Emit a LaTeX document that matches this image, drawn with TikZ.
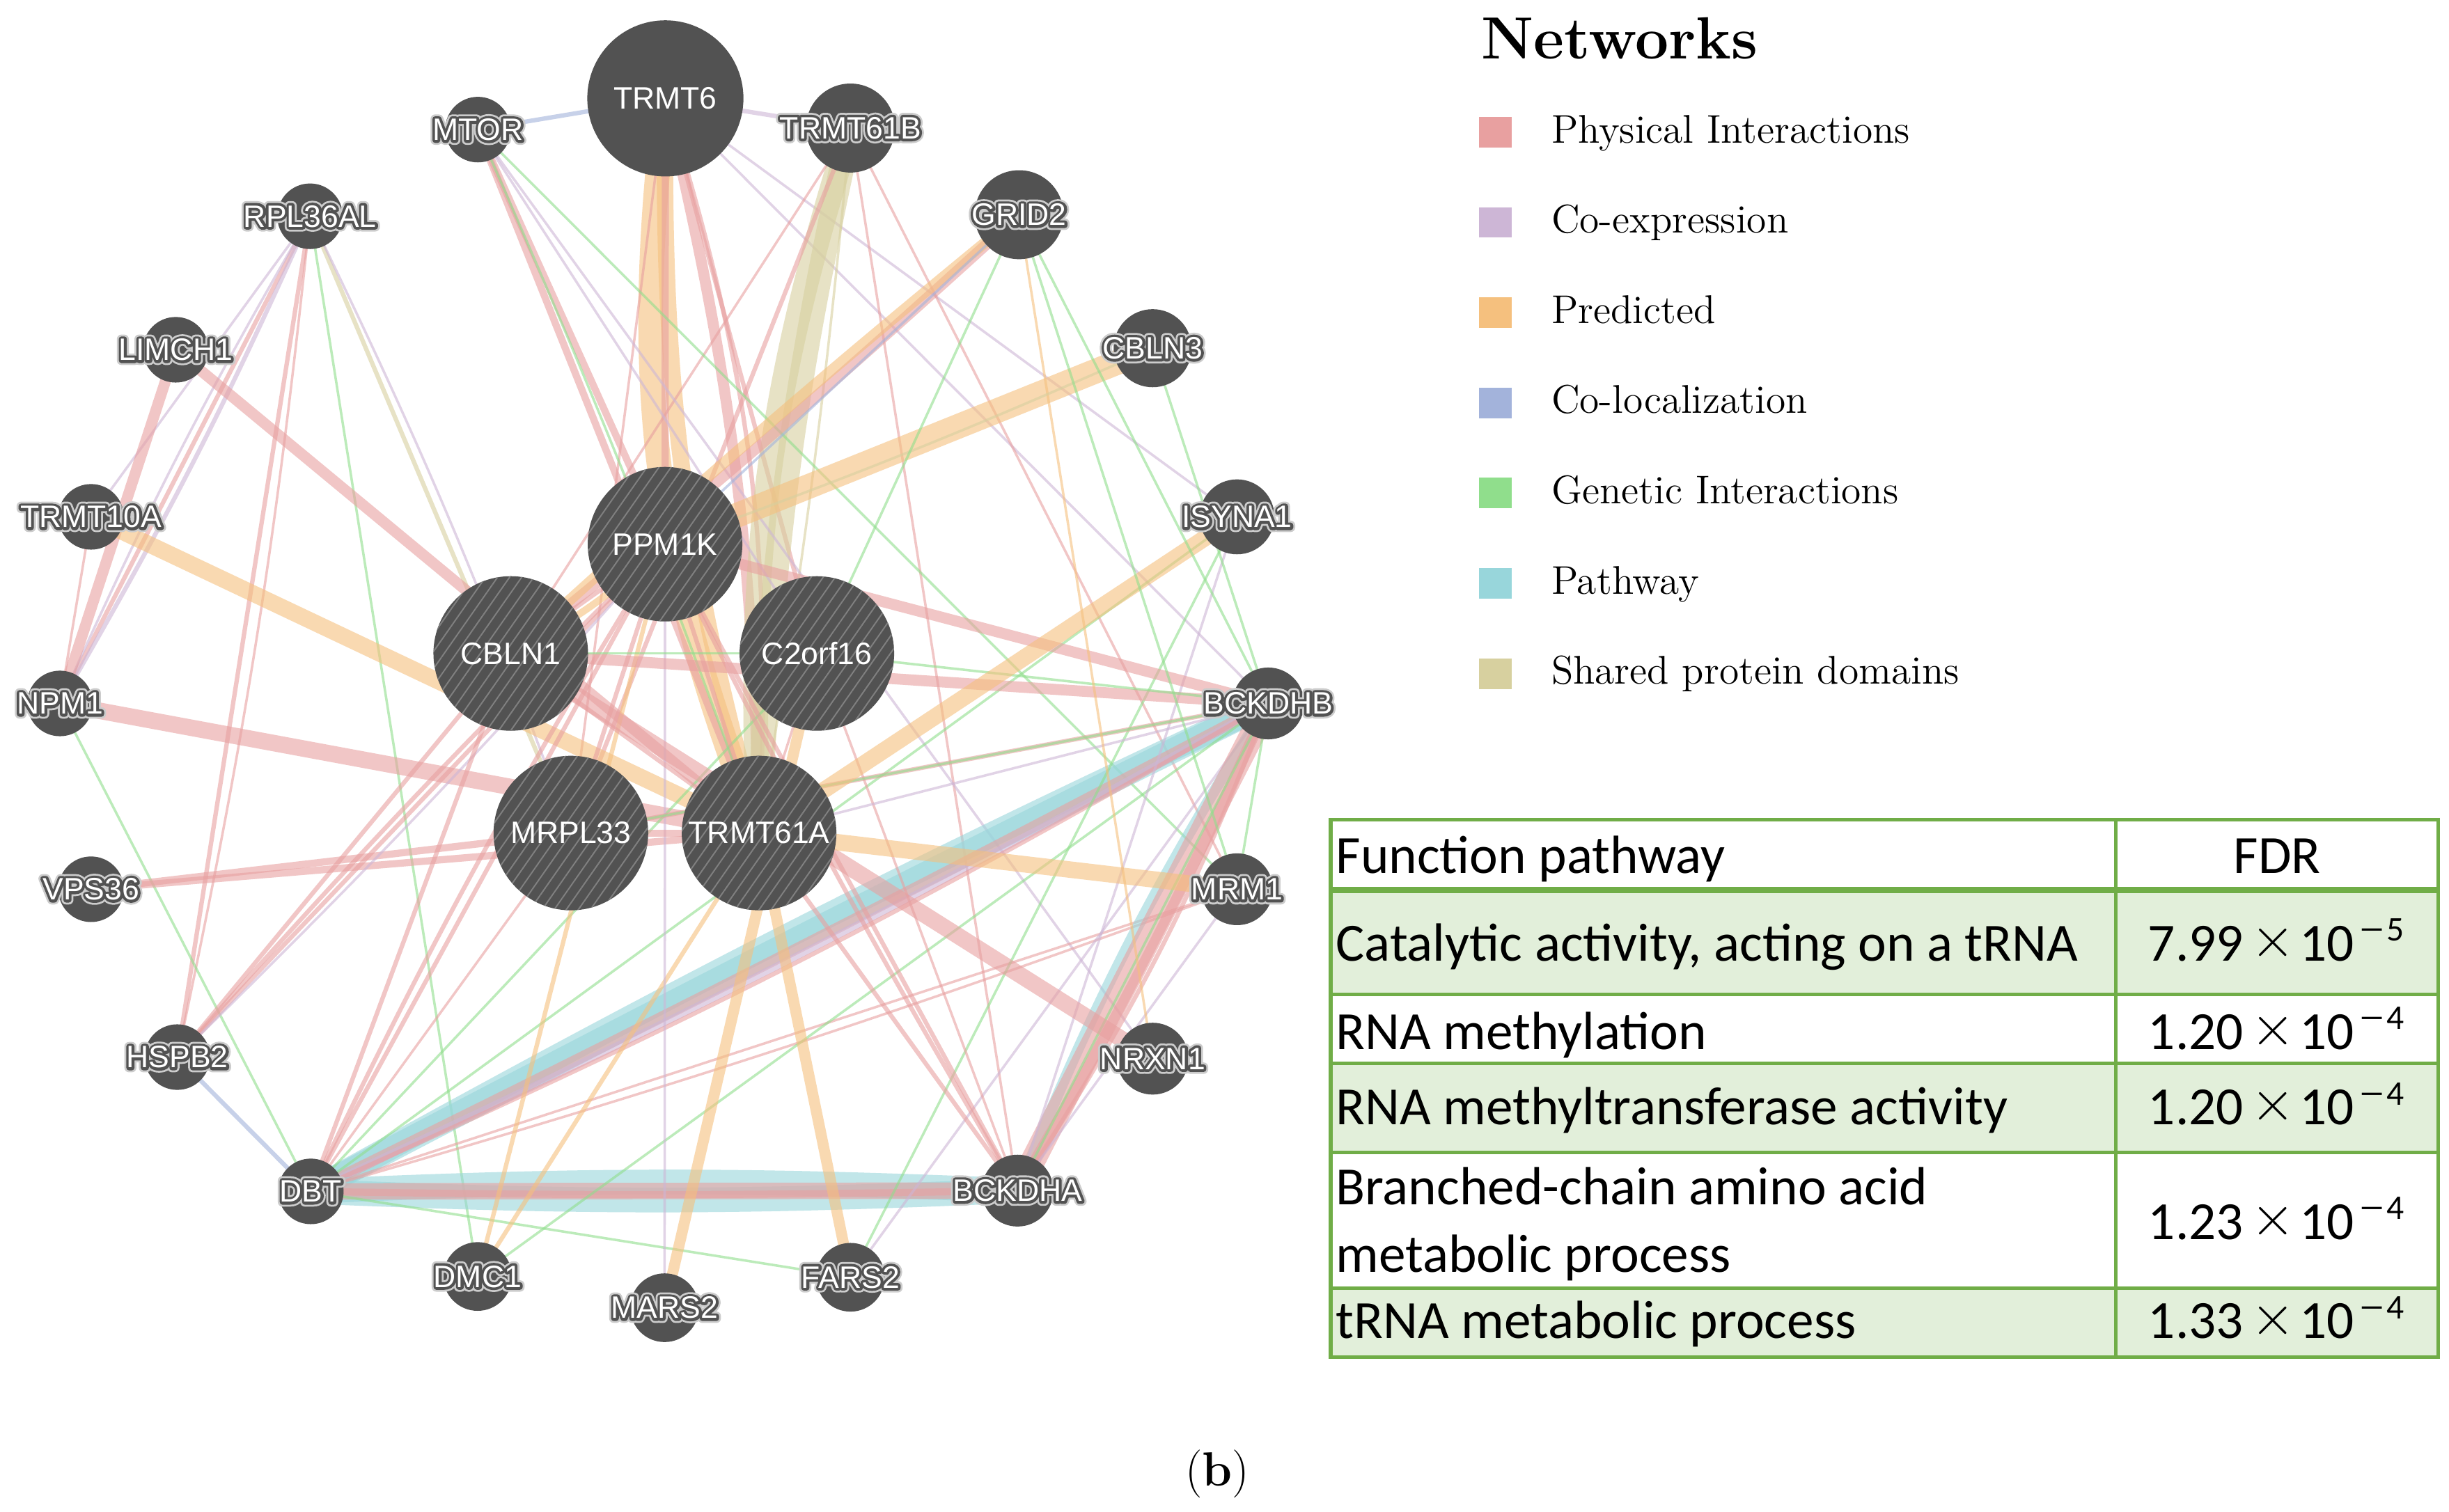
\documentclass[tikz,border=0pt]{standalone}
\usepackage{fontspec}
\usepackage{graphicx}
\newfontfamily\labfont{Liberation Sans}
\newfontfamily\tabfont{Carlito}
\usetikzlibrary{patterns.meta}
\pgfdeclarelayer{back}
\pgfdeclarelayer{edgelayer}
\pgfsetlayers{back,edgelayer,main}

\definecolor{ngray}{RGB}{82,82,82}
\definecolor{hatchc}{RGB}{128,128,128}
\definecolor{cphys}{RGB}{232,160,160}
\definecolor{ccoexp}{RGB}{205,182,214}
\definecolor{cpred}{RGB}{245,192,126}
\definecolor{ccoloc}{RGB}{163,179,219}
\definecolor{cgen}{RGB}{144,222,140}
\definecolor{cpath}{RGB}{152,214,219}
\definecolor{cshared}{RGB}{215,208,159}
\definecolor{tgreen}{RGB}{112,173,71}
\definecolor{tfill}{RGB}{226,239,218}

% outlined label: stroked copies (PDF text render mode 1) under the white text
\newcommand\halotext[1]{\makebox[0pt]{%
  \rlap{\special{pdf:literal direct 1 Tr 3.3 w 1 j 0.8 0.8 0.8 RG}#1\special{pdf:literal direct 0 Tr 1 1 1 RG}}%
  \rlap{\special{pdf:literal direct 1 Tr 1.9 w 1 j 0.32 0.32 0.32 RG}#1\special{pdf:literal direct 0 Tr 1 1 1 RG}}%
  #1}}
\newcommand\plaintext[1]{\makebox[0pt]{#1}}
\newcommand\fdrval[2]{#1\kern2.6pt\raisebox{1.4pt}{\fontsize{22}{22}\selectfont$\times$}\kern1.8pt 10\kern1.5pt\raisebox{7.2pt}{\fontsize{12.6}{13}\selectfont\scalebox{1.55}[1]{−}\kern0.6pt#2}}

\tikzset{
  edge/.style={opacity=0.6},
  phys/.style={edge,draw=cphys},
  coexp/.style={edge,draw=ccoexp},
  pred/.style={edge,draw=cpred},
  coloc/.style={edge,draw=ccoloc},
  gen/.style={edge,draw=cgen},
  pathw/.style={edge,draw=cpath},
  shared/.style={edge,draw=cshared},
  w1/.style={line width=0.9pt},
  w2/.style={line width=1.6pt},
  w3/.style={line width=2.6pt},
  w4/.style={line width=4pt},
  w5/.style={line width=6pt},
  w6/.style={line width=9pt},
  gnode/.style={circle,fill=ngray,inner sep=0pt,text=white,font=\labfont\fontsize{11.3}{13}\selectfont},
  big/.style={gnode,minimum size=2cm},
  query/.style={gnode,minimum size=1.98cm,postaction={pattern={Lines[angle=55,distance=3.6pt,line width=0.5pt]},pattern color=hatchc}},
  s21/.style={gnode,minimum size=0.84cm},
  s22/.style={gnode,minimum size=0.88cm},
  s23/.style={gnode,minimum size=0.92cm},
  s24/.style={gnode,minimum size=0.96cm},
  s25/.style={gnode,minimum size=1.0cm},
  s29/.style={gnode,minimum size=1.14cm},
  legtitle/.style={anchor=base west,inner sep=0pt,font=\bfseries\fontsize{21.7}{24}\selectfont},
  legtext/.style={anchor=base west,inner sep=0pt,font=\fontsize{14.6}{16}\selectfont},
  legsq/.style={draw=none,inner sep=0pt,minimum width=0.42cm,minimum height=0.39cm},
  tabtext/.style={anchor=base west,inner sep=0pt,font=\tabfont\fontsize{19.6}{22}\selectfont},
  tabline/.style={draw=tgreen,line width=1.3pt},
}

\begin{document}
\begin{tikzpicture}[x=0.02cm,y=-0.02cm]
\useasboundingbox (0,0) rectangle (1568,968);
\begin{pgfonlayer}{back}
\fill[white] (0,0) rectangle (1568,968);
\end{pgfonlayer}

% ---------------- nodes ----------------
\node[big] (TRMT6) at (426,63) {\plaintext{TRMT6}};
\node[s21] (MTOR) at (306,83) {\halotext{MTOR}};
\node[s29] (TRMT61B) at (544.5,82) {\halotext{TRMT61B}};
\node[s21] (RPL36AL) at (198.5,138.5) {\halotext{RPL36AL}};
\node[s29] (GRID2) at (652.5,137.5) {\halotext{GRID2}};
\node[s21] (LIMCH1) at (112.5,224) {\halotext{LIMCH1}};
\node[s25] (CBLN3) at (738,223) {\halotext{CBLN3}};
\node[s21] (TRMT10A) at (58.3,331) {\halotext{TRMT10A}};
\node[s24] (ISYNA1) at (792,331) {\halotext{ISYNA1}};
\node[s21] (NPM1) at (38.4,450.5) {\halotext{NPM1}};
\node[s23] (BCKDHB) at (812,450.5) {\halotext{BCKDHB}};
\node[s21] (VPS36) at (58.3,569.5) {\halotext{VPS36}};
\node[s23] (MRM1) at (792,569.5) {\halotext{MRM1}};
\node[s21] (HSPB2) at (113.5,677) {\halotext{HSPB2}};
\node[s23] (NRXN1) at (738,678) {\halotext{NRXN1}};
\node[s21] (DBT) at (199,763) {\halotext{DBT}};
\node[s23] (BCKDHA) at (651.5,762.5) {\halotext{BCKDHA}};
\node[s22] (DMC1) at (305.8,817.5) {\halotext{DMC1}};
\node[s22] (MARS2) at (425.5,837.5) {\halotext{MARS2}};
\node[s22] (FARS2) at (544.5,818) {\halotext{FARS2}};
\node[query] (PPM1K) at (425.8,348.5) {\plaintext{PPM1K}};
\node[query] (CBLN1) at (327,418.5) {\plaintext{CBLN1}};
\node[query] (C2orf16) at (523,418.5) {\plaintext{C2orf16}};
\node[query] (MRPL33) at (365.5,533.5) {\plaintext{MRPL33}};
\node[query] (TRMT61A) at (486,533.5) {\plaintext{TRMT61A}};

% ---------------- edges ----------------
\begin{pgfonlayer}{edgelayer}
% TRMT6
\draw[coloc,w2] (TRMT6.center) -- (MTOR.center);
\draw[coexp,w2] (TRMT6.center) -- (TRMT61B.center);
\draw[pred,w6] (TRMT6.center) to[bend right=14] (TRMT61A.center);
\draw[pred,w5] (TRMT6.center) to[bend right=8] (TRMT61A.center);
\draw[phys,w4] (TRMT6.center) to[bend left=6] (TRMT61A.center);
\draw[phys,w2] (TRMT6.center) to[bend left=10] (TRMT61A.center);
\draw[phys,w3] (TRMT6.center) -- (PPM1K.center);
\draw[phys,w2] (TRMT6.center) -- (C2orf16.center);
\draw[phys,w1] (TRMT6.center) -- (MRPL33.center);
\draw[coexp,w1] (TRMT6.center) -- (ISYNA1.center);
\draw[coexp,w1] (TRMT6.center) -- (BCKDHB.center);
% TRMT61B
\draw[shared,w6] (TRMT61B.center) to[bend right=10] (TRMT61A.center);
\draw[shared,w6] (TRMT61B.center) to[bend right=5] (TRMT61A.center);
\draw[shared,w1] (TRMT61B.center) to[bend left=2] (TRMT61A.center);
\draw[phys,w2] (TRMT61B.center) -- (MRPL33.center);
\draw[phys,w1] (TRMT61B.center) -- (CBLN1.center);
\draw[phys,w1] (TRMT61B.center) -- (MRM1.center);
\draw[phys,w1] (TRMT61B.center) -- (BCKDHA.center);
% MTOR
\draw[phys,w3] (MTOR.center) -- (PPM1K.center);
\draw[phys,w3] (MTOR.center) -- (TRMT61A.center);
\draw[gen,w1] (MTOR.center) to[bend left=2] (TRMT61A.center);
\draw[coexp,w1] (MTOR.center) -- (C2orf16.center);
\draw[gen,w1] (MTOR.center) -- (MRM1.center);
\draw[coexp,w1] (MTOR.center) -- (NRXN1.center);
% RPL36AL
\draw[phys,w2] (RPL36AL.center) -- (NPM1.center);
\draw[coexp,w2] (RPL36AL.center) to[bend left=3] (NPM1.center);
\draw[coexp,w1] (RPL36AL.center) to[bend right=3] (NPM1.center);
\draw[coexp,w1] (RPL36AL.center) -- (TRMT10A.center);
\draw[phys,w2] (RPL36AL.center) -- (HSPB2.center);
\draw[phys,w1] (RPL36AL.center) to[bend left=3] (HSPB2.center);
\draw[shared,w2] (RPL36AL.center) -- (MRPL33.center);
\draw[coexp,w1] (RPL36AL.center) to[bend left=3] (MRPL33.center);
\draw[gen,w1] (RPL36AL.center) -- (DMC1.center);
% LIMCH1, TRMT10A, NPM1, VPS36
\draw[phys,w4] (LIMCH1.center) -- (NPM1.center);
\draw[phys,w4] (LIMCH1.center) -- (TRMT61A.center);
\draw[pred,w5] (TRMT10A.center) -- (TRMT61A.center);
\draw[phys,w1] (TRMT10A.center) -- (NPM1.center);
\draw[phys,w5] (NPM1.center) -- (TRMT61A.center);
\draw[gen,w1] (NPM1.center) -- (DBT.center);
\draw[phys,w3] (VPS36.center) -- (MRPL33.center);
\draw[phys,w3] (VPS36.center) -- (TRMT61A.center);
% HSPB2
\draw[phys,w2] (HSPB2.center) -- (PPM1K.center);
\draw[phys,w2] (HSPB2.center) to[bend left=2] (PPM1K.center);
\draw[coexp,w1] (HSPB2.center) to[bend right=2] (PPM1K.center);
\draw[phys,w2] (HSPB2.center) -- (CBLN1.center);
\draw[coloc,w2] (HSPB2.center) -- (DBT.center);
% DBT
\draw[pathw,w6] (DBT.center) to[bend left=2] (BCKDHB.center);
\draw[pathw,w6] (DBT.center) to[bend left=0.7] (BCKDHB.center);
\draw[phys,w4] (DBT.center) to[bend right=0.8] (BCKDHB.center);
\draw[coexp,w3] (DBT.center) to[bend right=2] (BCKDHB.center);
\draw[phys,w2] (DBT.center) to[bend right=3] (BCKDHB.center);
\draw[pathw,w6] (DBT.center) to[bend left=2.5] (BCKDHA.center);
\draw[pathw,w6] (DBT.center) to[bend right=2.5] (BCKDHA.center);
\draw[phys,w5] (DBT.center) -- (BCKDHA.center);
\draw[phys,w3] (DBT.center) to[bend right=1] (BCKDHA.center);
\draw[phys,w2] (DBT.center) -- (PPM1K.center);
\draw[phys,w2] (DBT.center) to[bend left=3] (PPM1K.center);
\draw[phys,w2] (DBT.center) -- (CBLN1.center);
\draw[phys,w1] (DBT.center) -- (MRPL33.center);
\draw[phys,w1] (DBT.center) -- (MRM1.center);
\draw[phys,w1] (DBT.center) to[bend right=2] (MRM1.center);
\draw[gen,w1] (DBT.center) -- (C2orf16.center);
\draw[gen,w1] (DBT.center) -- (ISYNA1.center);
\draw[gen,w1] (DBT.center) -- (FARS2.center);
% DMC1, MARS2, FARS2
\draw[pred,w2] (DMC1.center) -- (PPM1K.center);
\draw[pred,w2] (DMC1.center) -- (TRMT61A.center);
\draw[gen,w1] (DMC1.center) -- (BCKDHB.center);
\draw[coexp,w1] (MARS2.center) -- (PPM1K.center);
\draw[pred,w4] (MARS2.center) -- (C2orf16.center);
\draw[pred,w4] (FARS2.center) -- (TRMT61A.center);
\draw[coexp,w1] (FARS2.center) -- (BCKDHB.center);
\draw[gen,w1] (FARS2.center) -- (ISYNA1.center);
% BCKDHA, BCKDHB
\draw[pathw,w4] (BCKDHA.center) to[bend left=5] (BCKDHB.center);
\draw[phys,w6] (BCKDHA.center) -- (BCKDHB.center);
\draw[phys,w4] (BCKDHA.center) to[bend right=3] (BCKDHB.center);
\draw[phys,w2] (BCKDHA.center) to[bend right=6] (BCKDHB.center);
\draw[phys,w2] (BCKDHA.center) -- (PPM1K.center);
\draw[phys,w2] (BCKDHA.center) to[bend left=2] (PPM1K.center);
\draw[phys,w2] (BCKDHA.center) -- (TRMT61A.center);
\draw[phys,w1] (BCKDHA.center) -- (C2orf16.center);
\draw[coexp,w1] (BCKDHA.center) -- (ISYNA1.center);
\draw[coexp,w1] (BCKDHA.center) -- (MRM1.center);
\draw[phys,w4] (BCKDHB.center) -- (PPM1K.center);
\draw[phys,w4] (BCKDHB.center) -- (CBLN1.center);
\draw[phys,w2] (BCKDHB.center) -- (MRPL33.center);
\draw[gen,w1] (BCKDHB.center) -- (C2orf16.center);
\draw[coexp,w1] (BCKDHB.center) -- (TRMT61A.center);
\draw[gen,w1] (BCKDHB.center) -- (MRM1.center);
\draw[gen,w1] (BCKDHB.center) -- (BCKDHA.center);
\draw[gen,w1] (BCKDHB.center) -- (MRPL33.center);
% NRXN1, MRM1, ISYNA1
\draw[phys,w5] (NRXN1.center) -- (CBLN1.center);
\draw[pred,w1] (NRXN1.center) -- (GRID2.center);
\draw[pred,w5] (MRM1.center) -- (TRMT61A.center);
\draw[pred,w5] (ISYNA1.center) -- (TRMT61A.center);
% CBLN3, GRID2
\draw[pred,w6] (CBLN3.center) -- (PPM1K.center);
\draw[shared,w1] (CBLN3.center) to[bend left=2] (PPM1K.center);
\draw[gen,w1] (CBLN3.center) -- (BCKDHB.center);
\draw[phys,w4] (GRID2.center) to[bend left=1.5] (CBLN1.center);
\draw[pred,w4] (GRID2.center) to[bend right=1.5] (CBLN1.center);
\draw[coloc,w1] (GRID2.center) -- (PPM1K.center);
\draw[gen,w1] (GRID2.center) -- (C2orf16.center);
\draw[gen,w1] (GRID2.center) -- (BCKDHB.center);
\draw[gen,w1] (GRID2.center) -- (MRM1.center);
% inner
\draw[phys,w2] (PPM1K.center) -- (CBLN1.center);
\draw[pred,w3] (PPM1K.center) to[bend left=8] (CBLN1.center);
\draw[phys,w2] (PPM1K.center) -- (TRMT61A.center);
\draw[phys,w2] (PPM1K.center) -- (MRPL33.center);
\draw[gen,w1] (CBLN1.center) -- (C2orf16.center);
\draw[phys,w3] (MRPL33.center) -- (TRMT61A.center);
\draw[phys,w2] (CBLN1.center) -- (TRMT61A.center);
\draw[phys,w1] (C2orf16.center) -- (TRMT61A.center);
\end{pgfonlayer}

% ---------------- legend ----------------
\node[legtitle] (nettitle) at (948,37.7) {Networks};
\node[legsq,fill=cphys] (sq1) at (957.3,84.6) {};
\node[legtext] (lg1) at (993,91.4) {Physical Interactions};
\node[legsq,fill=ccoexp] (sq2) at (957.3,142.4) {};
\node[legtext] (lg2) at (993,149.2) {Co-expression};
\node[legsq,fill=cpred] (sq3) at (957.3,200.2) {};
\node[legtext] (lg3) at (993,207) {Predicted};
\node[legsq,fill=ccoloc] (sq4) at (957.3,258) {};
\node[legtext] (lg4) at (993,264.8) {Co-localization};
\node[legsq,fill=cgen] (sq5) at (957.3,315.8) {};
\node[legtext] (lg5) at (993,322.6) {Genetic Interactions};
\node[legsq,fill=cpath] (sq6) at (957.3,373.6) {};
\node[legtext] (lg6) at (993,380.4) {Pathway};
\node[legsq,fill=cshared] (sq7) at (957.3,431.4) {};
\node[legtext] (lg7) at (993,438.2) {Shared protein domains};

% ---------------- table ----------------
\fill[tfill] (852,570) rectangle (1561,637);
\fill[tfill] (852,681) rectangle (1561,738);
\fill[tfill] (852,825) rectangle (1561,869);
\draw[tabline] (852,525) rectangle (1561,869);
\draw[tabline] (852,637) -- (1561,637);
\draw[tabline] (852,681) -- (1561,681);
\draw[tabline] (852,738) -- (1561,738);
\draw[tabline] (852,825) -- (1561,825);
\draw[tabline] (1354.5,525) -- (1354.5,869);
\draw[tabline,line width=2.4pt] (852,570) -- (1561,570);

\node[tabtext] (h1) at (855,559.3) {Function pathway};
\node[tabtext,anchor=base] (h2) at (1458,559.3) {FDR};
\node[tabtext] (r1) at (855,615.3) {Catalytic activity, acting on a tRNA};
\node[tabtext] (r2) at (855,672) {RNA methylation};
\node[tabtext] (r3) at (855,720.2) {RNA methyltransferase activity};
\node[tabtext] (r4a) at (855,771.5) {Branched-chain amino acid};
\node[tabtext] (r4b) at (855,814.6) {metabolic process};
\node[tabtext] (r5) at (855,857.3) {tRNA metabolic process};
\node[tabtext] (f1) at (1375,615.3) {\fdrval{7.99}{5}};
\node[tabtext] (f2) at (1375,672) {\fdrval{1.20}{4}};
\node[tabtext] (f3) at (1375,720.2) {\fdrval{1.20}{4}};
\node[tabtext] (f4) at (1375,793.7) {\fdrval{1.23}{4}};
\node[tabtext] (f5) at (1375,857.3) {\fdrval{1.33}{4}};

% ---------------- caption ----------------
\node[anchor=base,inner sep=0pt,font=\fontsize{17.5}{20}\selectfont] (cap) at (779.5,951.5) {(\textbf{b})};
\end{tikzpicture}
\end{document}
